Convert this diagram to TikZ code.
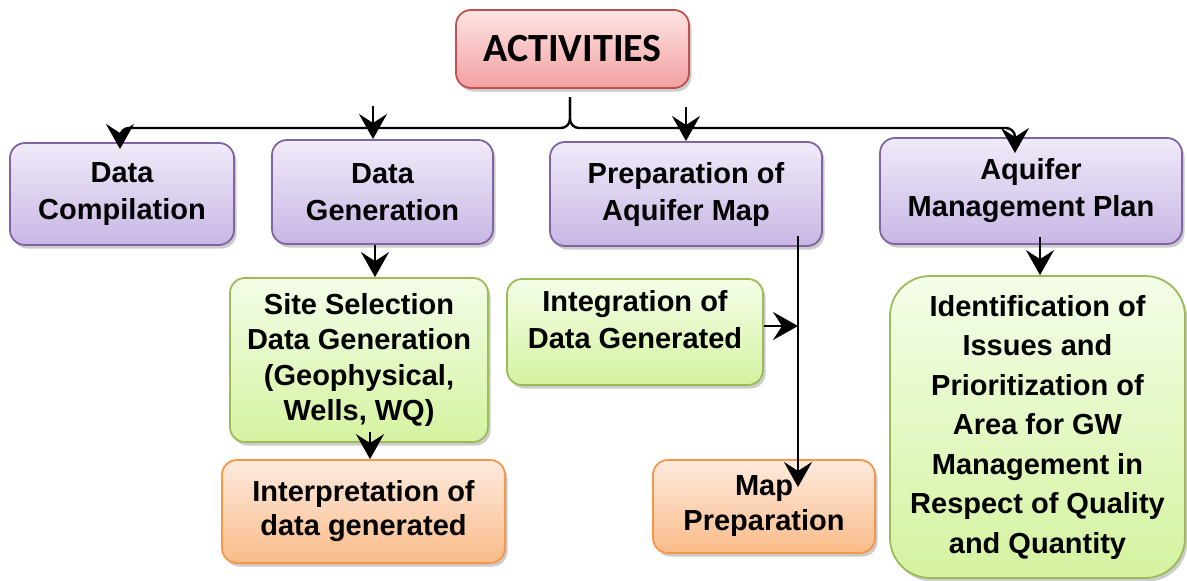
\documentclass[tikz,border=0pt]{standalone}
\usepackage{fontspec}
\setmainfont{Liberation Sans}
\newfontfamily\calib{Carlito}
\usetikzlibrary{arrows.meta,shadows}
\definecolor{pinkT}{RGB}{253,228,228}
\definecolor{pinkB}{RGB}{243,160,160}
\definecolor{pinkD}{RGB}{192,80,77}
\definecolor{purpT}{RGB}{240,235,249}
\definecolor{purpB}{RGB}{200,182,228}
\definecolor{purpD}{RGB}{128,100,162}
\definecolor{grnT}{RGB}{244,253,232}
\definecolor{grnB}{RGB}{212,243,160}
\definecolor{grnD}{RGB}{155,187,89}
\definecolor{orT}{RGB}{253,234,222}
\definecolor{orB}{RGB}{250,188,138}
\definecolor{orD}{RGB}{247,150,70}
\begin{document}
\begin{tikzpicture}[x=1pt,y=-1pt,
  box/.style={draw, line width=1.8pt, rounded corners=15pt, align=center,
    font=\bfseries\fontsize{29}{37}\selectfont, inner sep=0pt,
    drop shadow={shadow xshift=2.5pt,shadow yshift=-3.5pt,fill=black!40}},
  pinkbox/.style={box, draw=pinkD, top color=pinkT, bottom color=pinkB},
  purpbox/.style={box, draw=purpD, top color=purpT, bottom color=purpB},
  grnbox/.style={box, draw=grnD, top color=grnT, bottom color=grnB},
  orbox/.style={box, draw=orD, top color=orT, bottom color=orB},
  lbl/.style={align=center, font=\bfseries\fontsize{29}{37}\selectfont, inner sep=0pt},
  wire/.style={line width=2.4pt},
  conn/.style={wire, -{Stealth[length=25pt,width=28pt,inset=9pt]}}
]
\useasboundingbox (0,0) rectangle (1187,581);

\node[pinkbox, minimum width=233pt, minimum height=78pt, font=\calib\bfseries\fontsize{40}{44}\selectfont] (act) at (572.5,49) {ACTIVITIES};

\node[purpbox, minimum width=224pt, minimum height=102pt] (dc) at (122,194) {Data\\Compilation};
\node[purpbox, minimum width=221pt, minimum height=104pt] (dg) at (382.5,192) {Data\\Generation};
\node[purpbox, minimum width=272pt, minimum height=104pt] (pam) at (686,194) {Preparation of\\Aquifer Map};
\node[purpbox, minimum width=302pt, minimum height=106pt] (amp) at (1031,191) {Aquifer\\Management Plan};

\node[grnbox, minimum width=258pt, minimum height=164pt, font=\bfseries\fontsize{29}{35.5}\selectfont] (ss) at (359,360) {Site Selection\\Data Generation\\(Geophysical,\\Wells, WQ)};
\node[grnbox, minimum width=256pt, minimum height=106pt] (int) at (635,332) {};
\node[lbl] (intT) at (635,320) {Integration of\\Data Generated};

\node[orbox, minimum width=283pt, minimum height=103pt, font=\bfseries\fontsize{29}{34}\selectfont] (interp) at (363.5,511.5) {Interpretation of\\data generated};
\node[orbox, minimum width=222pt, minimum height=93pt, font=\bfseries\fontsize{29}{35}\selectfont] (mp) at (764,506.5) {Map\\Preparation};

\node[grnbox, rounded corners=40pt, minimum width=295pt, minimum height=302pt, font=\bfseries\fontsize{29}{39.5}\selectfont] (ident) at (1037.5,427) {Identification of\\Issues and\\Prioritization of\\Area for GW\\Management in\\Respect of Quality\\and Quantity};

% top distribution
\coordinate (top) at (570,97);
\coordinate (hj) at (570,128);
\coordinate (dcin) at (120,149);
\coordinate (ampin) at (1015,153);
\draw[wire, rounded corners=9pt] (top) -- (hj) -- (dcin |- hj) -- ([yshift=-14pt]dcin |- hj);
\draw[wire, rounded corners=9pt] (top) -- (hj) -- (ampin |- hj) -- ([yshift=-14pt]ampin |- hj);
\draw[conn] ([yshift=-8pt]dcin |- hj) -- (dcin);
\draw[conn] ([yshift=-8pt]ampin |- hj) -- (ampin);
\coordinate (dgs) at (373,106);
\coordinate (dgin) at (373,139);
\draw[conn] (dgs) -- (dgin);
\coordinate (pams) at (686,107);
\coordinate (pamin) at (686,141);
\draw[conn] (pams) -- (pamin);

% lower connectors
\coordinate (dgout) at (375,245);
\draw[conn] (dgout) -- (dgout |- ss.north);
\coordinate (ssout) at (370,432);
\draw[conn] (ssout) -- (ssout |- interp.north);
\coordinate (pv) at (798,236);
\coordinate (mpin) at (798,487);
\draw[conn] (pv) -- (mpin);
\coordinate (mj) at (798,326);
\draw[conn] (int.east |- mj) -- (mj);
\coordinate (ampout) at (1040,237);
\draw[conn] (ampout) -- (ampout |- ident.north);
\end{tikzpicture}
\end{document}
